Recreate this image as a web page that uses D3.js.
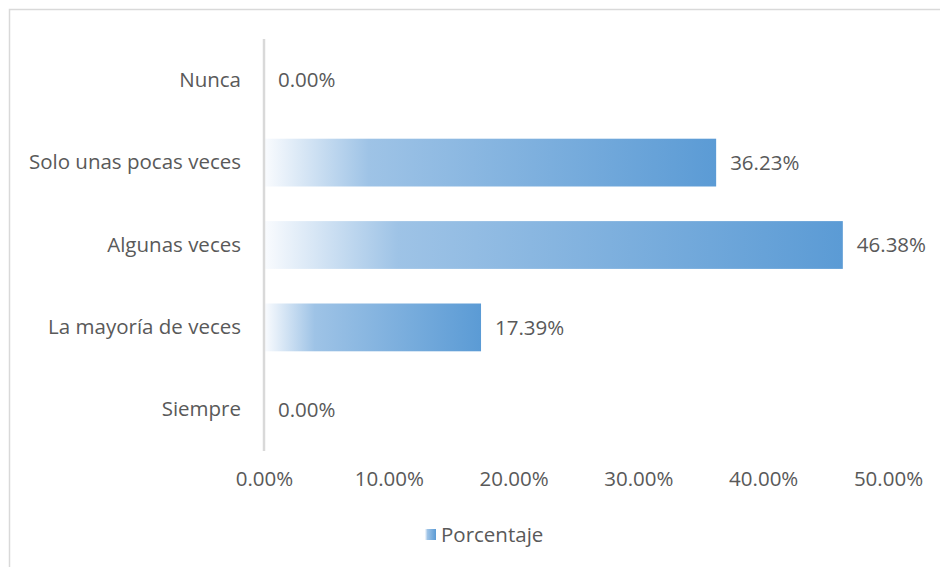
<!DOCTYPE html>
<html>
<head>
<meta charset="utf-8">
<script src="https://cdn.jsdelivr.net/npm/d3@7"></script>
<style>
  html, body { margin: 0; padding: 0; background: #fff; }
  svg { display: block; }
  text { font-family: "Open Sans", Lato, sans-serif; fill: #595959; }
</style>
</head>
<body>
<svg id="chart" width="940" height="567"></svg>
<script>
// Frequency categories and their share of responses (%)
const categories = ["Nunca", "Solo unas pocas veces", "Algunas veces", "La mayoría de veces", "Siempre"];
const percentages = [0.00, 36.23, 46.38, 17.39, 0.00];
const xTicks = [0, 10, 20, 30, 40, 50];
const seriesName = "Porcentaje";

const FONT = "'Open Sans', Lato, sans-serif";
const FS = 20.5;

const svg = d3.select("#chart");
const W = 940, H = 567;
const plot = { left: 264, right: 888, top: 39, bottom: 451 };

// Outer frame of the chart area
svg.append("rect")
  .attr("x", 9.5).attr("y", 9.5)
  .attr("width", W).attr("height", H)
  .attr("fill", "none").attr("stroke", "#d9d9d9").attr("stroke-width", 1.5);

const x = d3.scaleLinear().domain([0, 50]).range([plot.left, plot.right]);
const y = d3.scaleBand().domain(categories).range([plot.top, plot.bottom]).paddingInner(0.42).paddingOuter(0.21);

// Horizontal light-to-blue gradient, one per bar (objectBoundingBox)
const defs = svg.append("defs");
const grad = defs.append("linearGradient").attr("id", "barGrad")
  .attr("x1", "0%").attr("x2", "100%").attr("y1", "0%").attr("y2", "0%");
grad.append("stop").attr("offset", "0%").attr("stop-color", "#f9fbfe");
grad.append("stop").attr("offset", "23%").attr("stop-color", "#9ec3e6");
grad.append("stop").attr("offset", "100%").attr("stop-color", "#5b9bd5");

const rows = categories.map((c, i) => ({ cat: c, val: percentages[i] }));

// Bars
svg.append("g").selectAll("rect")
  .data(rows.filter(d => d.val > 0))
  .join("rect")
  .attr("x", x(0) + 1)
  .attr("y", d => y(d.cat))
  .attr("width", d => x(d.val) - x(0) - 1)
  .attr("height", y.bandwidth())
  .attr("fill", "url(#barGrad)");

// Vertical category axis line
svg.append("line")
  .attr("x1", x(0)).attr("x2", x(0))
  .attr("y1", plot.top).attr("y2", plot.bottom)
  .attr("stroke", "#d9d9d9").attr("stroke-width", 2.5);

// Category labels
const yAxis = d3.axisLeft(y).tickSize(0).tickPadding(23);
const yg = svg.append("g").attr("transform", `translate(${x(0)},0)`).call(yAxis);
yg.select(".domain").remove();
yg.selectAll("text").attr("font-size", FS).style("fill", "#595959")
  .style("font-family", FONT);

// Value axis tick labels
const xAxis = d3.axisBottom(x).tickValues(xTicks).tickSize(0).tickPadding(20)
  .tickFormat(d => d.toFixed(2) + "%");
const xg = svg.append("g").attr("transform", `translate(0,${plot.bottom})`).call(xAxis);
xg.select(".domain").remove();
xg.selectAll("text").attr("font-size", FS).style("fill", "#595959")
  .style("font-family", FONT);

// Data labels at bar ends
svg.append("g").selectAll("text")
  .data(rows)
  .join("text")
  .attr("x", d => x(d.val) + 14)
  .attr("y", d => y(d.cat) + y.bandwidth() / 2)
  .attr("dy", "0.35em")
  .attr("font-size", FS)
  .text(d => d.val.toFixed(2) + "%");

// Legend
const lg = svg.append("g").attr("transform", "translate(425,529)");
lg.append("rect").attr("width", 11).attr("height", 11).attr("fill", "url(#barGrad)");
lg.append("text").attr("x", 16).attr("y", 5.5).attr("dy", "0.35em")
  .attr("font-size", FS).text(seriesName);
</script>
</body>
</html>
